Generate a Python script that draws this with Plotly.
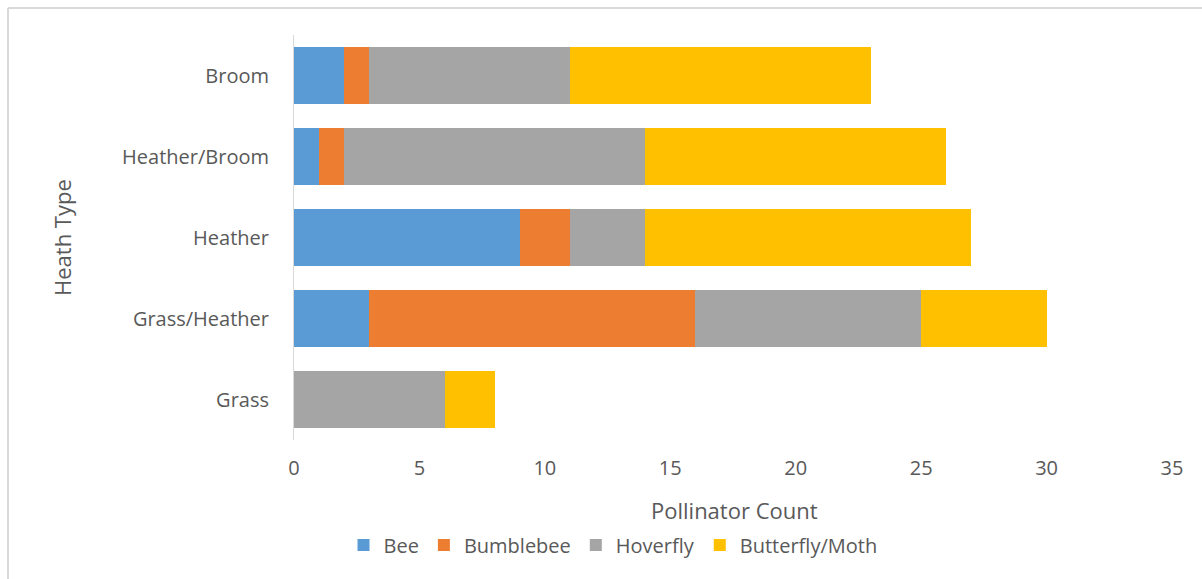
import plotly.graph_objects as go

# Heath types, listed bottom to top
heath_types = ["Grass", "Grass/Heather", "Heather", "Heather/Broom", "Broom"]

# Pollinator counts per heath type
bee = [0, 3, 9, 1, 2]
bumblebee = [0, 13, 2, 1, 1]
hoverfly = [6, 9, 3, 12, 8]
butterfly_moth = [2, 5, 13, 12, 12]

series = [
    ("Bee", bee, "#5B9BD5"),
    ("Bumblebee", bumblebee, "#ED7D31"),
    ("Hoverfly", hoverfly, "#A5A5A5"),
    ("Butterfly/Moth", butterfly_moth, "#FFC000"),
]

W, H = 1202, 579
L, R, T, B = 294, 30, 35, 139
plot_w = W - L - R
plot_h = H - T - B

def px_x(x):
    return (x - L) / plot_w

def px_y(y):
    return (H - B - y) / plot_h

text_color = "#595959"
font_family = "Open Sans, DejaVu Sans, sans-serif"

fig = go.Figure()
for name, vals, color in series:
    fig.add_trace(go.Bar(
        y=heath_types, x=vals, name=name, orientation="h",
        marker=dict(color=color, line=dict(width=0)),
    ))

fig.update_layout(
    width=W, height=H,
    margin=dict(l=L, r=R, t=T, b=B),
    barmode="stack",
    bargap=0.29,
    paper_bgcolor="white",
    plot_bgcolor="white",
    font=dict(family=font_family, color=text_color, size=20),
    xaxis=dict(
        range=[0, 35], tickvals=[0, 5, 10, 15, 20, 25, 30, 35],
        showgrid=False, zeroline=False, showline=False,
        ticks="", ticklabelstandoff=14,
        tickfont=dict(size=20, color=text_color),
    ),
    yaxis=dict(
        range=[-0.5, 4.5],
        showgrid=False, zeroline=False,
        showline=True, linecolor="#D9D9D9", linewidth=1,
        ticks="", ticklabelstandoff=20,
        tickfont=dict(size=20, color=text_color),
    ),
    legend=dict(
        orientation="h", x=px_x(613), xanchor="center",
        y=px_y(545), yanchor="middle",
        font=dict(size=20, color=text_color),
        traceorder="normal",
        itemwidth=30,
    ),
    showlegend=True,
)

# Axis titles
fig.add_annotation(
    text="Pollinator Count", xref="paper", yref="paper",
    x=px_x(734), y=px_y(510), xanchor="center", yanchor="middle",
    showarrow=False, font=dict(size=22, color=text_color),
)
fig.add_annotation(
    text="Heath Type", xref="paper", yref="paper",
    x=px_x(62), y=px_y(238), xanchor="center", yanchor="middle",
    textangle=-90, showarrow=False, font=dict(size=22, color=text_color),
)

# Chart area frame (top and left edges)
frame = dict(color="#D9D9D9", width=2)
fig.add_shape(type="line", xref="paper", yref="paper",
              x0=px_x(8), x1=px_x(W + 10), y0=px_y(8), y1=px_y(8), line=frame)
fig.add_shape(type="line", xref="paper", yref="paper",
              x0=px_x(8), x1=px_x(8), y0=px_y(8), y1=px_y(H + 10), line=frame)

fig.write_html("out.html")
